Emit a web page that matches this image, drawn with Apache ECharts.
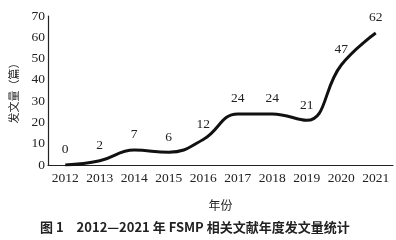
<!DOCTYPE html>
<html><head><meta charset="utf-8">
<script src="https://cdn.jsdelivr.net/npm/echarts@6/dist/echarts.min.js"></script>
<style>html,body{margin:0;padding:0;background:#fff}#c{width:396px;height:240px}</style>
</head><body><div id="c"></div>
<script>
const years = ['2012','2013','2014','2015','2016','2017','2018','2019','2020','2021'];
const counts = [0, 2, 7, 6, 12, 24, 24, 21, 47, 62];
const yTicks = {min: 0, max: 70, interval: 10};
const xName = '年份';
const yName = '发文量（篇）';
const caption = '图 1　2012—2021 年 FSMP 相关文献年度发文量统计';

const serif = '"Liberation Serif", "Noto Sans CJK SC", serif';
const chart = echarts.init(document.getElementById('c'));
chart.setOption({
  animation: false,
  backgroundColor: '#fff',
  grid: {left: 44, right: 3, top: 16, bottom: 75},
  title: {
    text: caption, left: 35, top: 216,
    textStyle: {fontFamily: '"Noto Sans CJK SC", sans-serif', fontSize: 13, fontWeight: 'bold', color: '#222'}
  },
  xAxis: {
    type: 'category', data: years, boundaryGap: true,
    name: xName, nameLocation: 'middle', nameGap: 34,
    nameTextStyle: {fontFamily: '"Noto Sans CJK SC", serif', fontSize: 12, color: '#222'},
    axisLine: {lineStyle: {color: '#222', width: 1.2}},
    axisTick: {show: false},
    axisLabel: {interval: 0, fontFamily: serif, fontSize: 13.5, color: '#222', margin: 7}
  },
  yAxis: {
    type: 'value', min: yTicks.min, max: yTicks.max, interval: yTicks.interval,
    name: yName, nameLocation: 'middle', nameRotate: 90, nameGap: 29,
    nameTextStyle: {fontFamily: '"Noto Sans CJK SC", serif', fontSize: 11, color: '#222'},
    axisLine: {show: true, lineStyle: {color: '#222', width: 1.2}},
    axisTick: {show: false},
    splitLine: {show: false},
    axisLabel: {fontFamily: serif, fontSize: 13.5, color: '#222', margin: 3}
  },
  series: [{
    type: 'line', data: counts, smooth: 0.45,
    symbol: 'circle', symbolSize: 1, showSymbol: true,
    itemStyle: {color: 'rgba(0,0,0,0)'},
    lineStyle: {color: '#111', width: 3},
    label: {show: true, position: 'top', distance: 8, fontFamily: serif, fontSize: 13.5, color: '#222'}
  }]
});
</script></body></html>
